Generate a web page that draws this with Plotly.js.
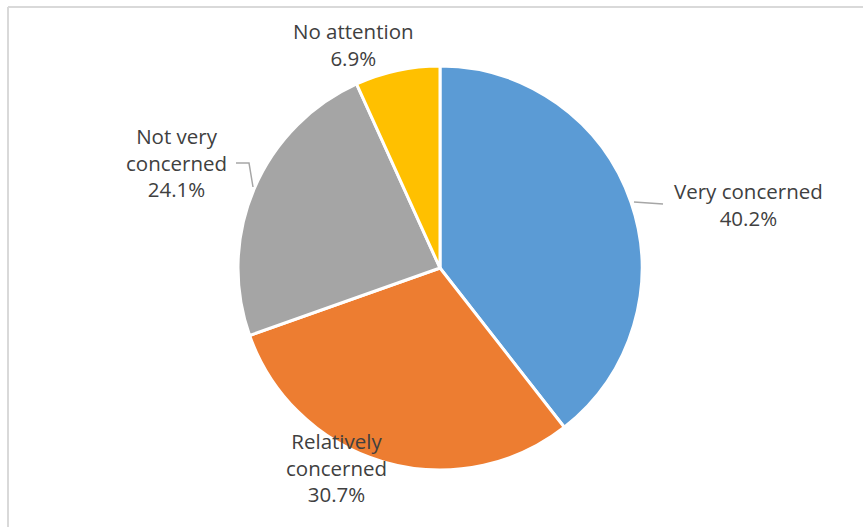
<!DOCTYPE html>
<html>
<head>
<meta charset="utf-8">
<script src="https://cdn.plot.ly/plotly-3.0.1.min.js"></script>
<style>
html,body{margin:0;padding:0;background:#fff;overflow:hidden;}
#chart{width:863px;height:527px;}
</style>
</head>
<body>
<div id="chart"></div>
<script>
var categories = ["Very concerned", "Relatively concerned", "Not very concerned", "No attention"];
var labelTexts = ["Very concerned<br>40.2%", "Relatively<br>concerned<br>30.7%", "Not very<br>concerned<br>24.1%", "No attention<br>6.9%"];
var values = [40.2, 30.7, 24.1, 6.9];
var colors = ["#5B9BD5", "#ED7D31", "#A5A5A5", "#FFC000"];

var W = 863, H = 527;
function px(x){return x / W;}
function py(y){return 1 - y / H;}

// label centre positions (pixels) for each category
var labelPos = [[748, 204], [336, 467], [176, 162], [353, 44]];

var cx = 440, cy = 268, r = 202;

var trace = {
  type: "pie",
  values: values,
  labels: categories,
  sort: false,
  direction: "clockwise",
  rotation: 0,
  textinfo: "none",
  hoverinfo: "label+percent",
  marker: {colors: colors, line: {color: "#ffffff", width: 3}},
  domain: {x: [px(cx - r), px(cx + r)], y: [py(cy + r), py(cy - r)]},
  showlegend: false
};

var annotations = categories.map(function(c, i){
  return {
    xref: "paper", yref: "paper",
    x: px(labelPos[i][0]), y: py(labelPos[i][1]),
    xanchor: "center", yanchor: "middle",
    text: labelTexts[i],
    showarrow: false,
    align: "center",
    font: {family: "Open Sans, Noto Sans, sans-serif", size: 20.5, color: "#404040"}
  };
});

function path(pts){
  return pts.map(function(p, i){ return (i ? "L" : "M") + px(p[0]) + "," + py(p[1]); }).join(" ");
}

var shapes = [
  {type: "line", xref: "paper", yref: "paper", x0: px(8), x1: 1, y0: py(7), y1: py(7),
   line: {color: "#d9d9d9", width: 2}, layer: "below"},
  {type: "line", xref: "paper", yref: "paper", x0: px(8), x1: px(8), y0: 0, y1: py(7),
   line: {color: "#d9d9d9", width: 2}, layer: "below"},
  {type: "path", xref: "paper", yref: "paper", path: path([[634, 202], [663, 204]]),
   line: {color: "#a6a6a6", width: 1.5}},
  {type: "path", xref: "paper", yref: "paper", path: path([[236, 163], [249, 163], [253, 187]]),
   line: {color: "#a6a6a6", width: 1.5}}
];

var layout = {
  width: W, height: H,
  margin: {l: 0, r: 0, t: 0, b: 0},
  paper_bgcolor: "#ffffff",
  plot_bgcolor: "#ffffff",
  annotations: annotations,
  shapes: shapes
};

Plotly.newPlot("chart", [trace], layout, {displayModeBar: false, staticPlot: true});
</script>
</body>
</html>
